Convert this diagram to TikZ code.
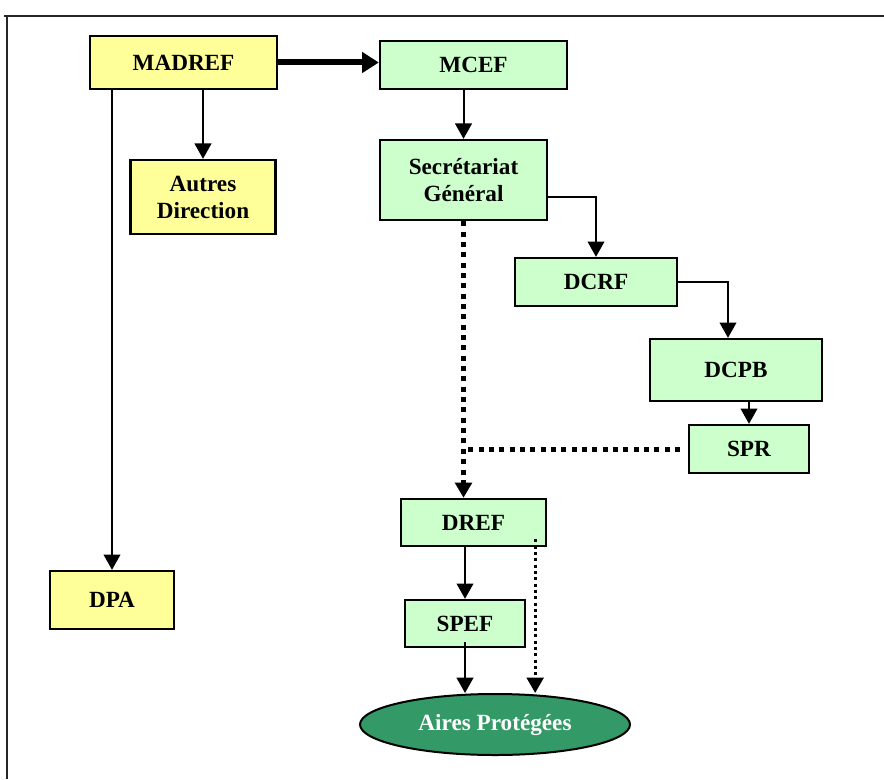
\documentclass[tikz,border=0pt]{standalone}
\usepackage{fontspec}
\setmainfont{Liberation Serif}
\usepackage{tikz}
\usetikzlibrary{positioning, arrows.meta, shapes.geometric}

\definecolor{boxyellow}{HTML}{FFFF99}
\definecolor{boxgreen}{HTML}{CCFFCC}
\definecolor{airegreen}{HTML}{339966}

\begin{document}
\begin{tikzpicture}[x=0.3mm, y=-0.3mm,
    unit/.style={draw, line width=0.7mm, inner sep=0pt, align=center,
                 font=\fontsize{19.8}{23}\selectfont\bfseries},
    ministry/.style={unit, fill=boxyellow},
    service/.style={unit, fill=boxgreen},
    link/.style={line width=0.6mm, -{Triangle[length=4.6mm,width=5mm]}},
    dotlink/.style={line width=1.5mm, dash pattern=on 1.5mm off 1.6mm},
    thindot/.style={line width=0.9mm, dash pattern=on 0.9mm off 1mm}]
    \useasboundingbox (0,0) rectangle (884,779);

    % frame round the chart
    \draw[line width=0.6mm, black!85] (4,16) -- (884,16);
    \draw[line width=0.6mm, black!85] (7,16) -- (7,779);

    % ministries
    \node[ministry, minimum width=56.1mm, minimum height=15.9mm] (madref) at (183.5, 62.5) {MADREF};
    \node[ministry, minimum width=43.5mm, minimum height=22.2mm] (autres) at (203, 197) {Autres\\Direction};
    \node[ministry, minimum width=37.2mm, minimum height=17.4mm] (dpa) at (112, 600) {DPA};

    % services
    \node[service, minimum width=56.1mm, minimum height=14.4mm] (mcef) at (473.5, 65) {MCEF};
    \node[service, minimum width=50.1mm, minimum height=24mm] (sg) at (463.5, 180) {Secrétariat\\Général};
    \node[service, minimum width=48.6mm, minimum height=14.4mm] (dcrf) at (596, 282) {DCRF};
    \node[service, minimum width=51.6mm, minimum height=18.6mm] (dcpb) at (736, 370) {DCPB};
    \node[service, minimum width=36mm, minimum height=14.4mm] (spr) at (749, 449) {SPR};
    \node[service, minimum width=43.5mm, minimum height=14.1mm] (dref) at (473.5, 522.5) {DREF};
    \node[service, minimum width=36mm, minimum height=14.1mm] (spef) at (465, 623.5) {SPEF};

    % protected areas
    \node[ellipse, draw, line width=0.6mm, fill=airegreen, inner sep=0pt,
          minimum width=81mm, minimum height=18.3mm, text=white,
          font=\fontsize{19.8}{23}\selectfont\bfseries] (aires) at (495, 724.5) {Aires Protégées};

    % links
    \draw[line width=1.8mm, -{Triangle[length=5mm,width=6mm]}] (madref.east) -- (mcef.west |- madref.east);
    \draw[link] (dpa.north |- madref.south) -- (dpa.north);
    \draw[link] (autres.north |- madref.south) -- (autres.north);
    \draw[link] (sg.north |- mcef.south) -- (sg.north);
    \draw[link] ([yshift=-5.1mm]sg.east) -| (dcrf.north);
    \draw[link] (dcrf.east) -| ([xshift=-2.4mm]dcpb.north);
    \draw[link] (spr.north |- dcpb.south) -- (spr.north);
    \draw[link] (spef.north |- dref.south) -- (spef.north);
    \draw[link] ([yshift=1.8mm]spef.south) -- (spef.south |- aires.north);

    % dotted links
    \coordinate (meet) at (sg.south |- spr.west);
    \draw[dotlink] (sg.south) -- (meet);
    \draw[dotlink, -{Triangle[length=4.6mm,width=5mm]}] (meet) -- (sg.south |- dref.north);
    \draw[dotlink, shorten <=2.4mm] (spr.west) -- (meet);
    \coordinate (drefdot) at ([xshift=-3.6mm, yshift=2.4mm]dref.south east);
    \draw[thindot, -{Triangle[length=4.6mm,width=5mm]}] (drefdot) -- (drefdot |- aires.north);
\end{tikzpicture}
\end{document}
